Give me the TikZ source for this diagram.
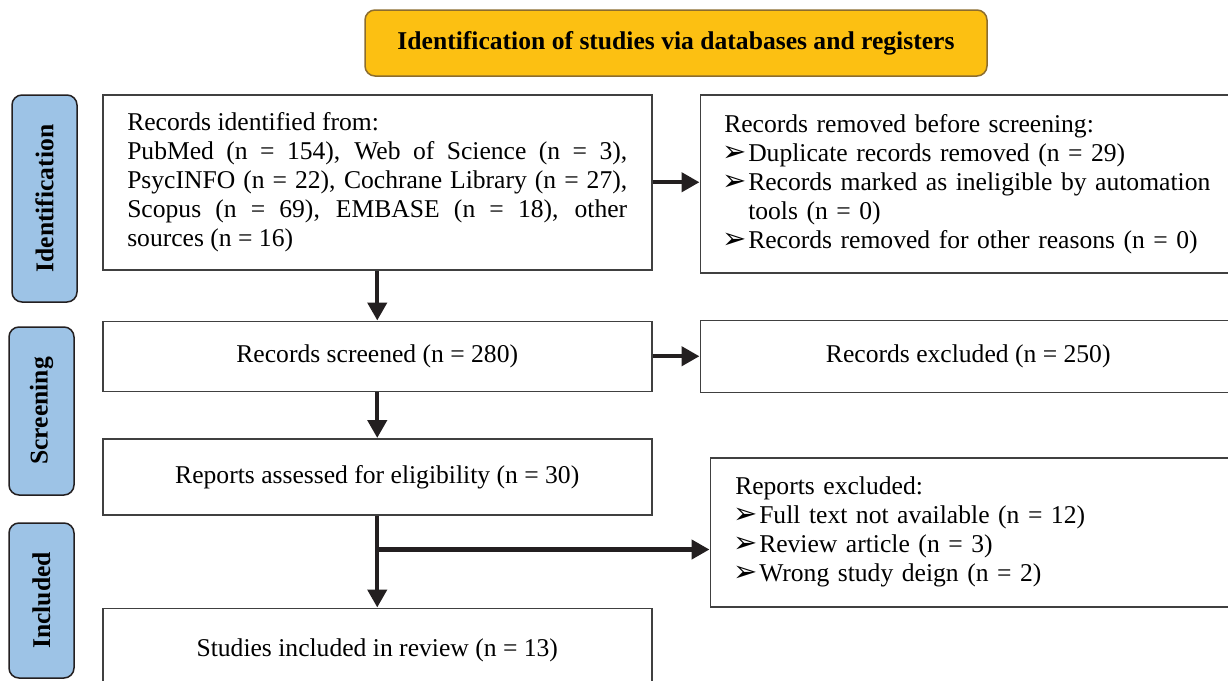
\documentclass[tikz,border=0pt]{standalone}
\usepackage{fontspec}
\setmainfont{Liberation Serif}
\newfontfamily\dingfont{DejaVu Sans}
\usetikzlibrary{arrows.meta,positioning}
\definecolor{banner}{HTML}{FCC012}
\definecolor{bannerline}{HTML}{8C6D2F}
\definecolor{stage}{HTML}{9DC3E6}
\definecolor{ink}{HTML}{231F20}
\definecolor{frame}{HTML}{404040}
\newcommand{\bul}[1]{\par\hangindent=12pt\hangafter=1\noindent\makebox[12pt][l]{\dingfont\fontsize{14.5}{14.5}\selectfont\hspace{-1pt}➢}#1}

\begin{document}
\begin{tikzpicture}[x=0.5pt,y=-0.5pt,
  font=\fontsize{12.8}{14.5}\selectfont,
  box/.style={rectangle,draw=frame,line width=0.75pt,inner sep=0pt},
  mainbox/.style={box,minimum width=274.5pt,align=center},
  stagebox/.style={rectangle,rounded corners=5pt,draw=ink,line width=0.75pt,fill=stage,
    rotate=90,minimum height=32.5pt,inner sep=0pt,font=\fontsize{12.8}{14.5}\selectfont\bfseries},
  arr/.style={-{Triangle[length=9pt,width=9.5pt]},line width=2.2pt,ink}]
\useasboundingbox (0,0) rectangle (1228,681);

\node[rectangle,rounded corners=5pt,draw=bannerline,line width=0.75pt,fill=banner,
  minimum width=311pt,minimum height=33pt,font=\fontsize{12.8}{14.5}\selectfont\bfseries]
  (banner) at (676,43) {Identification of studies via databases and registers};

% stages
\node[stagebox,minimum width=103.5pt] (idstage) at (44.5,198.5) {Identification};
\node[stagebox,minimum width=84pt] (scrstage) at (41.5,411) {Screening};
\node[stagebox,minimum width=77.5pt] (incstage) at (41.5,600.5) {Included};

% main column
\node[mainbox,minimum height=87.5pt,text width=250pt,align=justify,anchor=north west] (ident) at (102,94)
  {Records identified from:\\
   PubMed (n = 154), Web of Science (n = 3),\linebreak
   PsycINFO (n = 22), Cochrane Library (n = 27),\linebreak
   Scopus (n = 69), EMBASE (n = 18), other\linebreak
   sources (n = 16)};
\node[mainbox,minimum height=35pt,below=25pt of ident] (screened) {Records screened (n = 280)};
\node[mainbox,minimum height=38pt,below=23pt of screened] (assessed) {Reports assessed for eligibility (n = 30)};
\node[mainbox,minimum height=42pt,below=46pt of assessed] (included) {Studies included in review (n = 13)};

% side column
\node[box,minimum height=89pt,text width=244pt,inner xsep=12pt,align=left,right=23.5pt of ident,yshift=-0.75pt] (removed)
  {Records removed before screening:
   \bul{Duplicate records removed (n = 29)}
   \bul{Records marked as ineligible by automation\newline tools (n = 0)}
   \bul{Records removed for other reasons (n = 0)}};
\node[box,minimum height=36pt,minimum width=268pt,right=23.5pt of screened] (excluded) {Records excluded (n = 250)};
\node[box,minimum height=74.5pt,text width=238pt,inner xsep=12.5pt,align=left,anchor=north west]
  (repexcl) at ([xshift=28.5pt,yshift=-9.5pt]assessed.north east)
  {Reports excluded:
   \bul{Full text not available (n = 12)}
   \bul{Review article (n = 3)}
   \bul{Wrong study deign (n = 2)}};

\coordinate[below=17pt of assessed] (split);

\draw[arr] (ident) -- (screened);
\draw[arr] (screened) -- (assessed);
\draw[arr] (assessed) -- (included);
\draw[arr] (ident.east) -- (ident.east -| removed.west);
\draw[arr] (screened.east) -- (screened.east -| excluded.west);
\draw[arr] (split) -- (split -| repexcl.west);
\end{tikzpicture}
\end{document}
